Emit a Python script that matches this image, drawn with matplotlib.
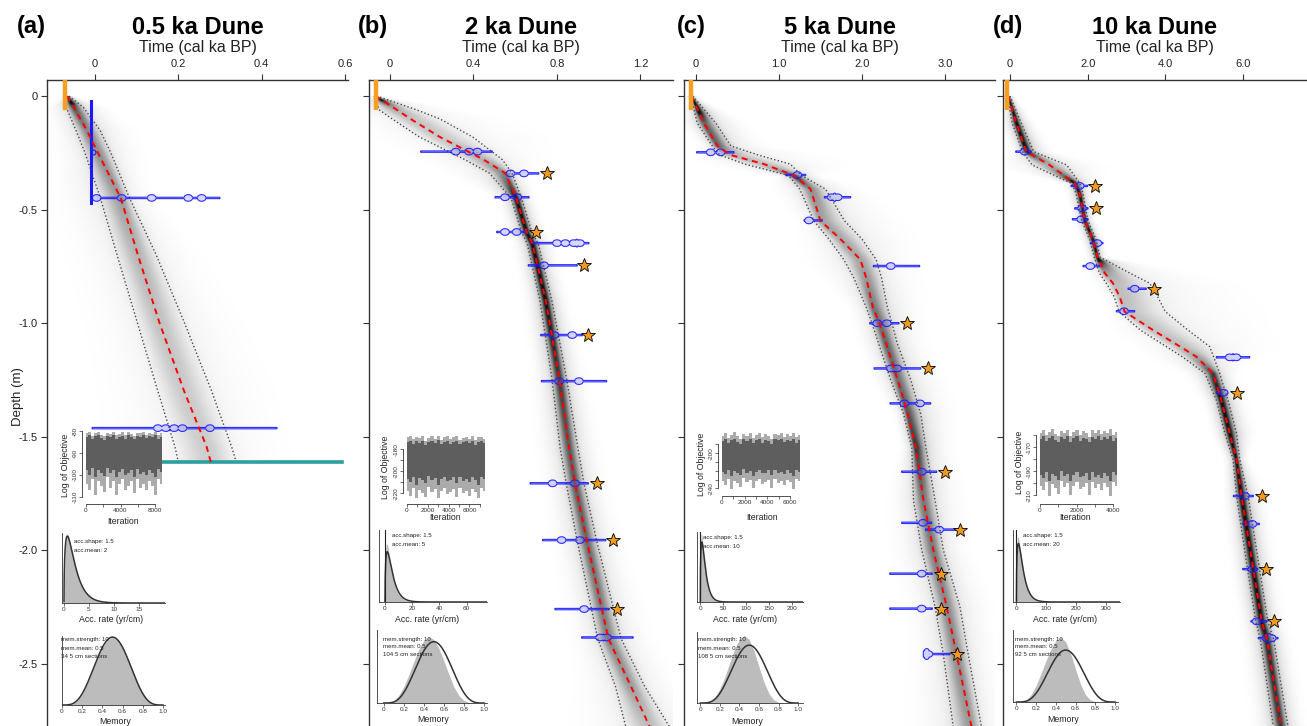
import numpy as np
import matplotlib
matplotlib.use("Agg")
import matplotlib.pyplot as plt
from math import gamma as gamma_fn

plt.rcParams['font.family'] = ['Liberation Sans', 'DejaVu Sans']
plt.rcParams['axes.unicode_minus'] = False

# ------------------------------------------------------------------ data
panel_letters = ['(a)', '(b)', '(c)', '(d)']
panel_titles = ['0.5 ka Dune', '2 ka Dune', '5 ka Dune', '10 ka Dune']
depth_ticks = [0, -0.5, -1.0, -1.5, -2.0, -2.5]
depth_ticklabels = ['0', '-0.5', '-1.0', '-1.5', '-2.0', '-2.5']

a_xticks = [0, 0.2, 0.4, 0.6]; a_xlabels = ['0', '0.2', '0.4', '0.6']
b_xticks = [0, 0.4, 0.8, 1.2]; b_xlabels = ['0', '0.4', '0.8', '1.2']
c_xticks = [0, 1, 2, 3];       c_xlabels = ['0', '1.0', '2.0', '3.0']
d_xticks = [0, 2, 4, 6];       d_xlabels = ['0', '2.0', '4.0', '6.0']

# age-depth model (depth m, ages cal ka BP)
a_depth = [0, -0.05, -0.15, -0.25, -0.45, -0.70, -1.00, -1.30, -1.545, -1.612]
a_lower = [-0.070, -0.069, -0.046, -0.024, 0.013, 0.053, 0.102, 0.151, 0.192, 0.200]
a_mean = [-0.067, -0.051, -0.020, 0.007, 0.062, 0.103, 0.155, 0.214, 0.268, 0.278]
a_upper = [-0.062, -0.028, 0.012, 0.038, 0.083, 0.147, 0.215, 0.280, 0.328, 0.339]

b_depth = [0, -0.06, -0.10, -0.18, -0.28, -0.34, -0.45, -0.60, -0.65, -0.90, -1.24, -1.55, -1.71, -1.96, -2.39, -2.60, -2.78]
b_lower = [-0.072, -0.053, 0.009, 0.140, 0.358, 0.477, 0.580, 0.630, 0.657, 0.718, 0.775, 0.815, 0.845, 0.897, 0.995, 1.080, 1.130]
b_mean = [-0.069, 0.031, 0.097, 0.238, 0.448, 0.552, 0.605, 0.655, 0.682, 0.746, 0.810, 0.858, 0.887, 0.943, 1.046, 1.154, 1.245]
b_upper = [-0.064, 0.124, 0.237, 0.395, 0.538, 0.585, 0.630, 0.680, 0.710, 0.775, 0.845, 0.900, 0.930, 0.990, 1.107, 1.220, 1.340]

c_depth = [0, -0.12, -0.22, -0.26, -0.30, -0.35, -0.41, -0.55, -0.63, -0.72, -0.80, -0.93, -1.00, -1.09, -1.25, -1.40, -1.55, -1.78, -2.00, -2.25, -2.46, -2.78]
c_lower = [-0.065, 0.016, 0.196, 0.287, 0.59, 1.115, 1.25, 1.42, 1.60, 1.78, 1.90, 2.05, 2.12, 2.20, 2.345, 2.50, 2.60, 2.62, 2.72, 2.88, 2.98, 3.10]
c_mean = [-0.055, 0.096, 0.257, 0.418, 0.82, 1.18, 1.38, 1.50, 1.74, 1.98, 2.05, 2.13, 2.21, 2.29, 2.43, 2.55, 2.65, 2.74, 2.86, 3.02, 3.14, 3.32]
c_upper = [-0.04, 0.24, 0.42, 0.75, 1.135, 1.27, 1.56, 1.79, 2.00, 2.17, 2.235, 2.305, 2.36, 2.425, 2.587, 2.707, 2.77, 2.88, 2.98, 3.18, 3.28, 3.44]

d_depth = [0, -0.12, -0.245, -0.304, -0.385, -0.43, -0.546, -0.634, -0.71, -0.78, -0.825, -0.884, -0.95, -1.031, -1.104, -1.148, -1.222, -1.339, -1.486, -1.60, -1.765, -2.081, -2.316, -2.389, -2.78]
d_lower = [-0.07, 0.056, 0.32, 0.57, 1.59, 1.70, 1.84, 2.05, 2.17, 2.30, 2.48, 2.68, 2.81, 3.355, 4.025, 4.43, 5.02, 5.31, 5.53, 5.74, 5.835, 6.11, 6.33, 6.44, 6.78]
d_mean = [-0.05, 0.163, 0.42, 1.02, 1.665, 1.794, 1.922, 2.136, 2.25, 2.44, 2.651, 2.823, 2.952, 3.68, 4.38, 4.795, 5.225, 5.44, 5.655, 5.83, 5.96, 6.26, 6.48, 6.61, 6.98]
d_upper = [0.0, 0.291, 0.61, 1.46, 1.80, 1.88, 2.00, 2.22, 2.32, 3.08, 3.596, 3.80, 4.00, 4.58, 5.14, 5.24, 5.397, 5.61, 5.83, 5.913, 6.13, 6.42, 6.64, 6.78, 7.16]

# surface (top) age
surface_age = [-0.071, -0.069, -0.060, -0.077]

# dated samples: depth, age range, modes
a_date_depth = [-0.449, -1.463]
a_date_lo = [-0.010, -0.007]
a_date_hi = [0.300, 0.437]
a_date_peaks = [[0.004, 0.064, 0.136, 0.224, 0.256], [0.151, 0.170, 0.190, 0.210, 0.276]]
a_spike_age = -0.010
a_spike_depths = [-0.022, -0.471]
a_spike_mode_depth = -0.246
a_base_depth = -1.613
a_base_ages = [0.156, 0.593]

b_date_depth = [-0.245, -0.341, -0.446, -0.599, -0.648, -0.746, -1.053, -1.256, -1.706, -1.956, -2.26, -2.385]
b_date_lo = [0.147, 0.554, 0.503, 0.511, 0.682, 0.662, 0.722, 0.725, 0.671, 0.731, 0.790, 0.918]
b_date_hi = [0.490, 0.713, 0.666, 0.658, 0.953, 0.897, 0.921, 1.038, 0.950, 1.034, 1.050, 1.165]
b_date_peaks = [[0.315, 0.379, 0.419], [0.577, 0.642], [0.551, 0.610], [0.551, 0.607],
                [0.80, 0.84, 0.88, 0.91], [0.738], [0.786, 0.873], [0.81, 0.905],
                [0.779, 0.886], [0.822, 0.91], [0.93], [1.006, 1.039]]
b_star_depth = [-0.341, -0.599, -0.746, -1.053, -1.706, -1.956, -2.26]
b_star_age = [0.754, 0.698, 0.929, 0.950, 0.990, 1.070, 1.086]

c_date_depth = [-0.248, -0.348, -0.446, -0.548, -0.749, -1.001, -1.200, -1.354, -1.655, -1.880, -1.910, -2.104, -2.258, -2.458]
c_date_lo = [0.008, 1.081, 1.546, 1.301, 2.136, 2.093, 2.145, 2.337, 2.478, 2.478, 2.765, 2.334, 2.334, 2.739]
c_date_hi = [0.458, 1.322, 1.864, 1.522, 2.695, 2.446, 2.707, 2.828, 2.900, 2.840, 3.162, 2.847, 2.847, 3.060]
c_date_peaks = [[0.177, 0.297], [1.221], [1.635, 1.707], [1.361], [2.346], [2.184, 2.298],
                [2.346, 2.425], [2.51, 2.699], [2.719], [2.735], [2.93], [2.719], [2.719], [2.76, 2.80]]
c_star_depth = [-1.001, -1.200, -1.655, -1.910, -2.104, -2.258, -2.458]
c_star_age = [2.539, 2.799, 3.003, 3.180, 2.948, 2.952, 3.141]

d_date_depth = [-0.245, -0.396, -0.495, -0.543, -0.648, -0.749, -0.849, -0.948, -1.151, -1.307, -1.762, -1.885, -2.084, -2.314, -2.388]
d_date_lo = [0.147, 1.57, 1.665, 1.604, 2.067, 1.879, 3.037, 2.737, 5.31, 5.31, 5.749, 5.99, 5.99, 6.20, 6.39]
d_date_hi = [0.548, 2.00, 2.008, 2.008, 2.394, 2.308, 3.508, 3.21, 6.17, 5.611, 6.263, 6.418, 6.378, 6.607, 6.90]
d_date_peaks = [[0.378], [1.793], [1.853], [1.835], [2.248], [2.067], [3.209], [2.934],
                [5.655, 5.825], [5.50], [6.049], [6.238], [6.238], [6.349], [6.607, 6.736]]
d_star_depth = [-0.396, -0.495, -0.849, -1.307, -1.762, -2.084, -2.314]
d_star_age = [2.179, 2.205, 3.698, 5.852, 6.479, 6.600, 6.795]

# MCMC traces (envelopes of log objective)
a_iter_max = 8800
a_tr_hi = [-81.0,-80.4,-82.1,-80.9,-80.2,-81.6,-82.4,-80.7,-81.3,-80.5,-82.0,-81.1,-80.6,-81.9,-80.3,-81.4,-82.3,-80.8,-81.0,-80.5,-81.8,-80.9,-81.2,-80.3,-81.9,-81.0]
a_tr_lo = [-104,-107,-102,-109,-103,-105,-108,-101,-106,-103,-109,-104,-102,-107,-105,-103,-108.5,-102,-106,-104,-107,-103,-105,-109,-102,-104]
a_co_hi = [-82.5,-82.0,-83.6,-82.4,-81.8,-83.1,-83.9,-82.2,-82.8,-82.0,-83.5,-82.6,-82.1,-83.4,-81.9,-82.9,-83.8,-82.3,-82.5,-82.0,-83.3,-82.4,-82.7,-81.9,-83.4,-82.5]
a_co_lo = [-98,-100,-97,-101,-98,-99,-100.5,-97,-99,-98,-101,-98.5,-97.5,-100,-99,-98,-101,-97.5,-99.5,-98.5,-100,-98,-99,-101,-97.5,-98.5]

b_iter_max = 7500
b_tr_hi = [-169,-167.5,-171,-168.5,-170,-167.8,-172,-169.5,-168,-170.5,-167.6,-171.5,-169,-168.2,-170.8,-168.8,-167.7,-171.2,-169.3,-168.4,-170.2,-167.9,-171.8,-169.1,-168.6,-170.4]
b_tr_lo = [-218,-222,-215,-224,-217,-220,-223,-214,-219,-216,-224,-218,-215,-221,-219,-216,-223.5,-215,-220,-218,-222,-216,-219,-224,-215,-218]
b_co_hi = [-173,-172,-175,-172.5,-174,-172,-176,-173.5,-172.3,-174.5,-171.8,-175.5,-173,-172.5,-174.8,-173,-172,-175.2,-173.3,-172.6,-174.2,-172.2,-175.8,-173.1,-172.8,-174.4]
b_co_lo = [-207,-210,-205,-212,-206,-208,-211,-204,-208,-206,-212,-207,-205,-209,-208,-205.5,-211,-205,-208.5,-207,-210,-205.5,-208,-212,-205,-207]

c_iter_max = 6900
c_tr_hi = [-180,-177,-183,-179,-176.5,-181,-184,-178,-180.5,-177.5,-182.5,-179.5,-177,-182,-178.5,-180,-183.5,-177.8,-179,-177.2,-181.5,-178.6,-180.2,-176.8,-182.2,-179.2]
c_tr_lo = [-232,-236,-229,-241,-231,-234,-238,-228,-233,-230,-240,-232,-229,-235,-233,-230,-239,-229,-234,-231,-236,-230,-233,-241,-229,-232]
c_co_hi = [-186,-184,-189,-185,-183.5,-187,-190,-184.5,-186.5,-184,-188.5,-185.5,-183.8,-188,-185,-186,-189.5,-184.2,-185.5,-183.9,-187.5,-185,-186.3,-183.6,-188.2,-185.4]
c_co_lo = [-221,-224,-219,-226,-220,-222,-225,-218,-222,-220,-226,-221,-219,-223,-222,-219.5,-225,-219,-222.5,-221,-224,-219.5,-222,-226,-219,-221]

d_iter_max = 4200
d_tr_hi = [-158,-155.5,-160,-157,-155,-159,-161,-156.5,-158.5,-155.8,-160.5,-157.5,-155.6,-159.5,-156.8,-158,-161.5,-156,-157.8,-155.4,-159.2,-156.6,-158.3,-155.2,-160.2,-157.2]
d_tr_lo = [-202,-206,-199,-211,-201,-204,-209,-198,-203,-200,-210,-202,-199,-205,-203,-200,-209.5,-199,-204,-201,-206,-200,-203,-210.5,-199,-202]
d_co_hi = [-163,-161,-165,-162,-160.5,-164,-166,-161.5,-163.5,-161,-165.5,-162.5,-160.8,-164.5,-162,-163,-166,-161.2,-162.8,-160.9,-164.2,-161.8,-163.3,-160.6,-165.2,-162.3]
d_co_lo = [-193,-196,-191,-198,-192,-194,-197,-190,-194,-192,-198,-193,-191,-195,-194,-191.5,-197,-191,-194.5,-193,-196,-191.5,-194,-198,-191,-193]

# accumulation-rate priors / posteriors
acc_shape = [1.5, 1.5, 1.5, 1.5]
acc_mean = [2, 5, 10, 20]
a_acc_x = [0, 0.25, 0.5, 0.75, 1, 1.5, 2, 3, 4, 5, 6, 8, 10, 12]
a_acc_y = [0, 0.31, 0.37, 0.375, 0.35, 0.29, 0.23, 0.13, 0.07, 0.037, 0.019, 0.005, 0.001, 0]
b_acc_x = [0, 0.5, 1, 2, 3, 4, 6, 8, 10, 14, 18, 24, 30]
b_acc_y = [0.06, 0.15, 0.168, 0.165, 0.14, 0.115, 0.07, 0.04, 0.022, 0.007, 0.002, 0.0005, 0]
c_acc_x = [0, 1, 2, 4, 6, 8, 12, 16, 20, 28, 36, 48, 60]
c_acc_y = [0.025, 0.075, 0.083, 0.08, 0.068, 0.056, 0.035, 0.02, 0.011, 0.0035, 0.001, 0.0002, 0]
d_acc_x = [0, 2, 4, 8, 12, 16, 24, 32, 40, 56, 72, 96, 120]
d_acc_y = [0.012, 0.037, 0.041, 0.039, 0.033, 0.028, 0.018, 0.011, 0.006, 0.002, 0.0006, 0.0001, 0]

# memory priors / posteriors
mem_strength = [10, 10, 10, 10]
mem_mean = [0.5, 0.5, 0.5, 0.5]
n_sections = [34, 104, 108, 92]
a_mem_post = [0, 0.003, 0.04, 0.17, 0.41, 0.78, 1.22, 1.69, 2.09, 2.37, 2.47, 2.37, 2.09, 1.68, 1.22, 0.77, 0.41, 0.16, 0.04, 0.003, 0]
b_mem_post = [0, 0.01, 0.08, 0.30, 0.65, 1.12, 1.65, 2.15, 2.50, 2.66, 2.55, 2.20, 1.70, 1.15, 0.65, 0.30, 0.10, 0.02, 0, 0, 0]
c_mem_post = [0, 0.01, 0.06, 0.25, 0.60, 1.10, 1.70, 2.30, 2.72, 2.88, 2.70, 2.20, 1.55, 0.90, 0.42, 0.14, 0.03, 0, 0, 0, 0]
d_mem_post = [0, 0.02, 0.10, 0.35, 0.78, 1.35, 1.95, 2.50, 2.90, 3.06, 2.85, 2.30, 1.55, 0.85, 0.35, 0.10, 0.02, 0, 0, 0, 0]

# ------------------------------------------------------------------ layout
W, H = 1307, 726
fig = plt.figure(figsize=(W / 100, H / 100), dpi=100)
YTOP, YBOT = 0.0705, -2.775


def px_axes(x0, y0, x1, y1):
    return fig.add_axes([x0 / W, 1 - y1 / H, (x1 - x0) / W, (y1 - y0) / H])


def ftext(x, y, s, **kw):
    fig.text(x / W, 1 - y / H, s, **kw)


def draw_cloud(ax, depth, lower, mean, upper, xlim, ppt):
    depth = np.asarray(depth, float)
    dd = np.linspace(depth[0], depth[-1], 700)
    m = np.interp(-dd, -depth, mean)
    lo = np.interp(-dd, -depth, lower)
    up = np.interp(-dd, -depth, upper)
    tt = np.linspace(xlim[0], xlim[1], 500)
    minw = 1.0 / ppt
    sl = np.maximum((m - lo) / 1.96, minw)[:, None]
    sr = np.maximum((up - m) / 1.96, minw)[:, None]
    hw_px = np.maximum((up - lo) / 2 * ppt, 1.0)
    d0 = np.clip(6.0 / hw_px, 0, 1)[:, None]
    diff = tt[None, :] - m[:, None]
    z = np.where(diff < 0, diff / sl, diff / sr)
    val = d0 * (0.8 * np.exp(-0.5 * z ** 2) + 0.2 * np.exp(-0.5 * (z / 3) ** 2))
    rgba = np.zeros((len(dd), len(tt), 4))
    rgba[..., 3] = np.clip(val, 0, 1) * 0.95
    ax.imshow(rgba, extent=[xlim[0], xlim[1], depth[-1], depth[0]], aspect='auto',
              origin='upper', interpolation='bilinear', zorder=1)


def draw_date(ax, d, lo, hi, peaks, ppt, ppd):
    t = np.linspace(lo, hi, 400)
    r = 4.0 / ppt
    h = 0.7 + sum(2.6 * np.sqrt(np.clip(1 - ((t - p) / r) ** 2, 0, 1)) for p in peaks)
    hd = h / ppd
    xs = np.concatenate([t, t[::-1]])
    ys = np.concatenate([d + hd, (d - hd)[::-1]])
    ax.fill(xs, ys, facecolor=(0.3, 0.3, 1, 0.22), edgecolor=(0.1, 0.1, 1, 0.9), lw=0.8, zorder=4)


def main_panel(idx, box, xlim, xticks, xlabels, depth, lower, mean, upper,
               ddep, dlo, dhi, dpk, sdep, sage):
    ax = px_axes(*box)
    ppt = (box[2] - box[0]) / (xlim[1] - xlim[0])
    ppd = (box[3] - box[1]) / (YTOP - YBOT)
    draw_cloud(ax, depth, lower, mean, upper, xlim, ppt)
    ax.plot(lower, depth, color='#4a4a4a', ls=(0, (1, 1.6)), lw=1.0, zorder=3)
    ax.plot(upper, depth, color='#4a4a4a', ls=(0, (1, 1.6)), lw=1.0, zorder=3)
    for d, lo, hi, pk in zip(ddep, dlo, dhi, dpk):
        draw_date(ax, d, lo, hi, pk, ppt, ppd)
    ax.plot(mean, depth, color='red', ls=(0, (3, 2.4)), lw=1.4, zorder=5)
    if len(sdep):
        ax.plot(sage, sdep, ls='none', marker='*', ms=10, mfc='#F09A1F', mec='black',
                mew=0.6, zorder=7)
    ax.plot([surface_age[idx]] * 2, [YTOP, -0.06], color='#F5A023', lw=3.2,
            solid_capstyle='butt', zorder=6)
    ax.set_xlim(xlim)
    ax.set_ylim(YBOT, YTOP)
    for sp in ['right', 'bottom']:
        ax.spines[sp].set_visible(False)
    for sp in ['left', 'top']:
        ax.spines[sp].set_color('#333333')
        ax.spines[sp].set_linewidth(1.0)
    ax.xaxis.tick_top()
    ax.set_xticks(xticks)
    ax.set_xticklabels(xlabels)
    ax.set_yticks(depth_ticks)
    ax.set_yticklabels(depth_ticklabels if idx == 0 else [])
    ax.tick_params(axis='both', direction='out', length=4, width=0.8, colors='#333333',
                   labelsize=8, pad=3, labelcolor='#222222')
    ax.tick_params(axis='x', pad=4)
    cx = (box[0] + box[2]) / 2
    ftext(cx, 27, panel_titles[idx], fontsize=17, fontweight='bold', ha='center', va='center')
    ftext(cx, 47.5, 'Time (cal ka BP)', fontsize=11.5, ha='center', va='center', color='#222222')
    return ax, ppt, ppd


def style_inset(ax, fs=4.6):
    ax.patch.set_alpha(0)
    for sp in ['right', 'top']:
        ax.spines[sp].set_visible(False)
    for sp in ['left', 'bottom']:
        ax.spines[sp].set_linewidth(0.6)
        ax.spines[sp].set_color('#333333')
    ax.tick_params(axis='both', length=2, width=0.5, pad=1, labelsize=fs, colors='#333333')


def trace_inset(box, iter_max, hi_out, lo_out, hi_core, lo_core, ylim, yticks, ylabels,
                xticks, xlabels, ylab_pos, xlab_pos):
    ax = px_axes(*box)
    it = np.linspace(0, iter_max, len(hi_out))
    ax.fill_between(it, lo_out, hi_out, step='mid', color='#ababab', lw=0)
    ax.fill_between(it, lo_core, hi_core, step='mid', color='#5e5e5e', lw=0)
    ax.set_xlim(0, iter_max)
    ax.set_ylim(ylim)
    style_inset(ax)
    ax.spines['left'].set_position(('outward', 3))
    ax.spines['bottom'].set_position(('outward', 3))
    ax.set_yticks(yticks)
    ax.set_yticklabels(ylabels, rotation=90, va='center')
    ax.set_xticks(xticks)
    ax.set_xticklabels(xlabels)
    ax.spines['left'].set_bounds(min(yticks), max(yticks))
    ax.spines['bottom'].set_bounds(min(xticks), max(xticks))
    ftext(ylab_pos[0], ylab_pos[1], 'Log of Objective', rotation=90, fontsize=6.3,
          ha='center', va='center', color='#222222')
    ftext(xlab_pos[0], xlab_pos[1], 'Iteration', fontsize=6.3, ha='center', va='center',
          color='#222222')


def acc_inset(idx, box, xlim, ylim, xp, yp, xticks, text_pos, lab_pos, zero_line):
    ax = px_axes(*box)
    ax.fill_between(xp, 0, yp, color='#bcbcbc', lw=0)
    shape, mu = acc_shape[idx], acc_mean[idx]
    scale = mu / shape
    xx = np.linspace(1e-4, xlim[1], 500)
    pdf = xx ** (shape - 1) * np.exp(-xx / scale) / (gamma_fn(shape) * scale ** shape)
    ax.plot(xx, pdf, color='#333333', lw=1.1)
    if zero_line:
        ax.plot([0, 0], [0, ylim[1]], color='#222222', lw=0.8)
    ax.set_xlim(xlim)
    ax.set_ylim(ylim)
    style_inset(ax)
    ax.set_yticks([])
    ax.set_xticks(xticks)
    ax.set_xticklabels([str(v) for v in xticks])
    ftext(text_pos[0], text_pos[1], 'acc.shape: %g' % shape, fontsize=4.4, va='center', color='#222222')
    ftext(text_pos[0], text_pos[1] + 9, 'acc.mean: %g' % mu, fontsize=4.4, va='center', color='#222222')
    ftext(lab_pos[0], lab_pos[1], 'Acc. rate (yr/cm)', fontsize=6.3, ha='center', va='center',
          color='#222222')


def mem_inset(idx, box, xlim, ylim, post, text_pos, lab_pos):
    ax = px_axes(*box)
    xm = np.linspace(0, 1, len(post))
    ax.fill_between(xm, 0, post, color='#bcbcbc', lw=0)
    a = mem_strength[idx] * mem_mean[idx]
    b = mem_strength[idx] * (1 - mem_mean[idx])
    xx = np.linspace(0, 1, 300)
    bconst = gamma_fn(a) * gamma_fn(b) / gamma_fn(a + b)
    pdf = xx ** (a - 1) * (1 - xx) ** (b - 1) / bconst
    ax.plot(xx, pdf, color='#333333', lw=1.1)
    ax.set_xlim(xlim)
    ax.set_ylim(ylim)
    style_inset(ax)
    ax.set_yticks([])
    ax.set_xticks([0, 0.2, 0.4, 0.6, 0.8, 1.0])
    ax.set_xticklabels(['0', '0.2', '0.4', '0.6', '0.8', '1.0'])
    lines = ['mem.strength: %g' % mem_strength[idx], 'mem.mean: %g' % mem_mean[idx],
             '%d 5 cm sections' % n_sections[idx]]
    for k, s in enumerate(lines):
        ftext(text_pos[0], text_pos[1] + 8 * k, s, fontsize=4.4, va='center', color='#222222')
    ftext(lab_pos[0], lab_pos[1], 'Memory', fontsize=6.3, ha='center', va='center', color='#222222')


# ------------------------------------------------------------------ main panels
boxes = [(47, 80, 348, 726), (369, 80, 673, 726), (684, 80, 995, 726), (1003, 80, 1307, 726)]
xlims = [(-0.1152, 0.6074), (-0.1006, 1.3557), (-0.1446, 3.6024), (-0.1802, 7.6448)]

axA, pptA, ppdA = main_panel(0, boxes[0], xlims[0], a_xticks, a_xlabels, a_depth, a_lower, a_mean, a_upper,
                             a_date_depth, a_date_lo, a_date_hi, a_date_peaks, [], [])
axA.plot([a_spike_age, a_spike_age], a_spike_depths, color=(0.1, 0.1, 1), lw=2.2, zorder=4)
axA.plot([a_spike_age + 0.006], [a_spike_mode_depth], ls='none', marker='o', ms=3.5,
         mfc='none', mec=(0.1, 0.1, 1), mew=0.8, zorder=4)
axA.plot(a_base_ages, [a_base_depth, a_base_depth], color='#2E9E9E', lw=2.6, zorder=4)

main_panel(1, boxes[1], xlims[1], b_xticks, b_xlabels, b_depth, b_lower, b_mean, b_upper,
           b_date_depth, b_date_lo, b_date_hi, b_date_peaks, b_star_depth, b_star_age)
main_panel(2, boxes[2], xlims[2], c_xticks, c_xlabels, c_depth, c_lower, c_mean, c_upper,
           c_date_depth, c_date_lo, c_date_hi, c_date_peaks, c_star_depth, c_star_age)
main_panel(3, boxes[3], xlims[3], d_xticks, d_xlabels, d_depth, d_lower, d_mean, d_upper,
           d_date_depth, d_date_lo, d_date_hi, d_date_peaks, d_star_depth, d_star_age)

for lx, s in zip([17, 358, 677, 993], panel_letters):
    ftext(lx, 27, s, fontsize=17, fontweight='bold', ha='left', va='center')
ftext(18, 397, 'Depth (m)', rotation=90, fontsize=9.5, ha='center', va='center', color='#222222')

# ------------------------------------------------------------------ insets
trace_inset((86, 430, 162, 500), a_iter_max, a_tr_hi, a_tr_lo, a_co_hi, a_co_lo, (-111.5, -79.5),
            [-110, -100, -90, -80], ['-110', '-100', '-90', '-80'],
            [0, 2000, 4000, 6000, 8000], ['0', '', '4000', '', '8000'], (66, 465), (123, 521))
trace_inset((407, 435, 485, 500), b_iter_max, b_tr_hi, b_tr_lo, b_co_hi, b_co_lo, (-226, -167),
            [-220, -210, -200, -190, -180], ['-220', '', '-200', '', '-180'],
            [0, 1000, 2000, 3000, 4000, 5000, 6000, 7000], ['0', '', '2000', '', '4000', '', '6000', ''],
            (385, 467), (445, 518))
trace_inset((722, 432, 800, 492), c_iter_max, c_tr_hi, c_tr_lo, c_co_hi, c_co_lo, (-244, -176),
            [-240, -230, -220, -210, -200, -190], ['-240', '', '', '', '-200', ''],
            [0, 1000, 2000, 3000, 4000, 5000, 6000], ['0', '', '2000', '', '4000', '', '6000'],
            (701, 464), (762, 518))
trace_inset((1040, 428, 1117, 500), d_iter_max, d_tr_hi, d_tr_lo, d_co_hi, d_co_lo, (-214, -154),
            [-210, -200, -190, -180, -170, -160], ['-210', '', '-190', '', '-170', ''],
            [0, 1000, 2000, 3000, 4000], ['0', '', '2000', '', '4000'], (1020, 462), (1075, 517))

acc_inset(0, (62, 533, 165, 603), (-0.4, 20.2), (0, 0.38), a_acc_x, a_acc_y, [0, 5, 10, 15],
          (74, 541), (111, 620), False)
acc_inset(1, (379, 530, 487, 602), (-4.4, 75), (0, 0.208), b_acc_x, b_acc_y, [0, 20, 40, 60],
          (392, 536), (427, 620), True)
acc_inset(2, (697, 532, 803, 602), (-7.2, 225), (0, 0.0847), c_acc_x, c_acc_y, [0, 50, 100, 150, 200],
          (703, 537), (745, 620), True)
acc_inset(3, (1013, 530, 1120, 602), (-11.4, 347), (0, 0.0446), d_acc_x, d_acc_y, [0, 100, 200, 300],
          (1023, 536), (1065, 620), True)

mem_inset(0, (62, 636, 165, 705), (0, 1.02), (0, 2.5), a_mem_post, (61, 640), (115, 721))
mem_inset(1, (377, 630, 487, 703), (-0.066, 1.03), (0, 2.93), b_mem_post, (383, 639), (433, 720))
mem_inset(2, (697, 632, 803, 703), (-0.034, 1.05), (0, 3.02), c_mem_post, (698, 640), (747, 721))
mem_inset(3, (1013, 630, 1118, 702), (-0.034, 1.03), (0, 3.41), d_mem_post, (1015, 639), (1063, 720))

fig.savefig('out.png', dpi=100)
